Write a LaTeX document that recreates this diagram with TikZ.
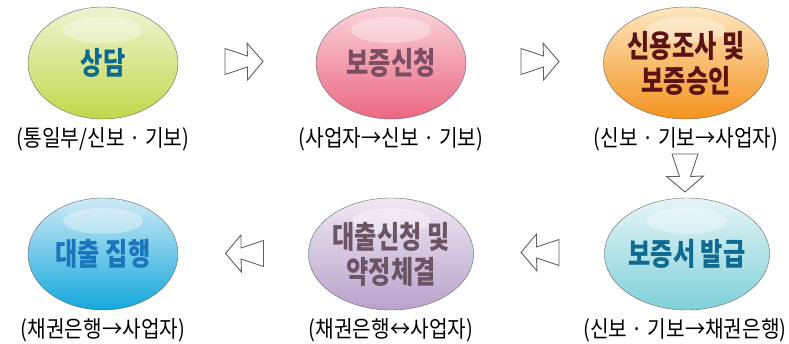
\documentclass[tikz,border=0pt]{standalone}
\usepackage{fontspec}
\newfontfamily\krnote[FakeStretch=0.88]{Noto Sans CJK KR}
\newfontfamily\krstage[FakeStretch=0.78]{Noto Sans CJK KR}
\usetikzlibrary{shapes.geometric,positioning}

\definecolor{greentop}{HTML}{EEF4D2}
\definecolor{greenbot}{HTML}{C2D84A}
\definecolor{pinktop}{HTML}{FAD4DA}
\definecolor{pinkbot}{HTML}{EC6683}
\definecolor{orangetop}{HTML}{FDE6C0}
\definecolor{orangebot}{HTML}{F6921E}
\definecolor{cyantop}{HTML}{E6F5F5}
\definecolor{cyanbot}{HTML}{7FD0DA}
\definecolor{lilactop}{HTML}{EFE8F2}
\definecolor{lilacbot}{HTML}{B9A2CB}
\definecolor{bluetop}{HTML}{CFEAF6}
\definecolor{bluebot}{HTML}{12A7DB}
\definecolor{tealtext}{HTML}{0F6A8F}
\definecolor{mauvetext}{HTML}{7A4F63}
\definecolor{maroontext}{HTML}{5A1414}
\definecolor{greytext}{HTML}{6B5565}
\definecolor{bluetext}{HTML}{1B75BB}

\tikzset{
    stage/.style={ellipse, draw=gray!80!black, minimum width=150pt,
        minimum height=112pt, inner sep=0pt, align=center,
        font=\krstage\bfseries\fontsize{31}{35}\selectfont,
        path picture={\fill[white,opacity=.35]
            ([yshift=-23pt]path picture bounding box.north) ellipse (40pt and 13pt);}},
    note/.style={inner sep=0pt, font=\krnote\fontsize{23}{26}\selectfont},
    flowarrow/.pic={\draw[gray!75!black, line width=0.9pt, fill=white, line join=miter]
        (-19,13) -- (3.5,5.5) -- (3,18.5) -- (19,0) -- (3.5,-18.5)
        -- (3.5,-5.5) -- (-19,-13) -- cycle;}
}

\begin{document}
\begin{tikzpicture}[x=1pt,y=1pt]
    \useasboundingbox (0,0) rectangle (789,343);
    % top row
    \node[stage, top color=greentop, bottom color=greenbot, text=tealtext]
        (consult) at (103,280) {상담};
    \node[stage, top color=pinktop, bottom color=pinkbot, text=mauvetext]
        (apply) at (391,280) {보증신청};
    \node[stage, top color=orangetop, bottom color=orangebot, text=maroontext]
        (review) at (686,280) {신용조사 및\\보증승인};
    % bottom row
    \node[stage, top color=cyantop, bottom color=cyanbot, text=tealtext]
        (issue) at (687,89) {보증서 발급};
    \node[stage, top color=lilactop, bottom color=lilacbot, text=greytext]
        (contract) at (391,89) {대출신청 및\\약정체결};
    \node[stage, top color=bluetop, bottom color=bluebot, text=bluetext]
        (loan) at (103,89) {대출 집행};
    % notes
    \node[note, below=8pt of consult] (consultnote) {(통일부/신보 · 기보)};
    \node[note, below=8pt of apply] (applynote) {(사업자→신보 · 기보)};
    \node[note, below=8pt of review] (reviewnote) {(신보 · 기보→사업자)};
    \node[note, below=8pt of issue, xshift=-2pt] (issuenote) {(신보 · 기보→채권은행)};
    \node[note, below=8pt of contract] (contractnote) {(채권은행↔사업자)};
    \node[note, below=8pt of loan] (loannote) {(채권은행→사업자)};
    % arrows
    \pic at (244,281.5) {flowarrow};
    \pic at (540,281.5) {flowarrow};
    \pic[rotate=-90] at (685,170) {flowarrow};
    \pic[rotate=180] at (540,90.5) {flowarrow};
    \pic[rotate=180] at (244.5,89.5) {flowarrow};
\end{tikzpicture}
\end{document}
